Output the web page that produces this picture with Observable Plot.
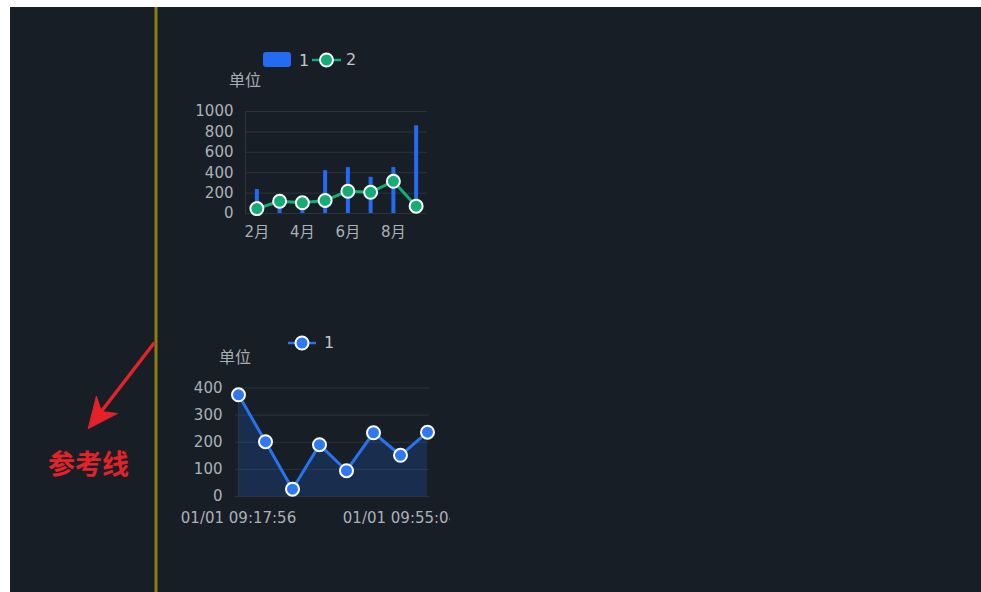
<!DOCTYPE html>
<html><head><meta charset="utf-8">
<script src="https://cdn.jsdelivr.net/npm/d3@7"></script>
<script src="https://cdn.jsdelivr.net/npm/@observablehq/plot@0.6"></script>
<style>
html,body{margin:0;padding:0;background:#fff;width:981px;height:592px;overflow:hidden;}
#stage{position:absolute;left:10px;top:7px;width:971px;height:585px;background:#171e26;overflow:hidden;font-family:"DejaVu Sans","Noto Sans CJK SC",sans-serif;}
.unit{position:absolute;color:#a9adb3;font-size:16px;transform:translate(-50%,-50%);white-space:nowrap;line-height:1;font-family:"Noto Sans CJK SC",sans-serif;}
svg{overflow:hidden;}
</style></head><body><div id="stage"></div>
<script>
// ---------- data ----------
const months = ["2月","3月","4月","5月","6月","7月","8月","9月"];
const series1 = [235,130,100,420,450,355,450,860];
const series2 = [48,120,105,128,218,208,316,72];
const monthTicks = ["2月","4月","6月","8月"];
const yTicks1 = [0,200,400,600,800,1000];

const times = ["01/01 09:17:56","01/01 09:24:10","01/01 09:30:15","01/01 09:36:40","01/01 09:42:52","01/01 09:49:01","01/01 09:55:04","01/01 10:01:20"];
const series3 = [375,202,27,191,95,235,152,237];
const timeTicks = ["01/01 09:17:56","01/01 09:55:04"];
const yTicks2 = [0,100,200,300,400];

const legend1 = ["1","2"];
const legend2 = ["1"];
const unitLabel = "单位";
const refLabel = "参考线";

// annotation (page pixel coordinates)
const refLineX = [155.5];
const refShaft = [{x1:154, y1:342, x2:100, y2:412}];
const refHead = [{x:88,y:428},{x:117,y:413},{x:101,y:411},{x:96,y:396}];
const refText = [{x:88, y:465, label:refLabel}];

// ---------- colours ----------
const GRID = "#2b333d", TXT = "#adb1b7";
const BLUE = "#236cf2", GREEN = "#14ad75", RED = "#e4222a", GOLD = "#8d7c12";
const FONT = '"DejaVu Sans","Noto Sans CJK SC",sans-serif';
const CJK = '"Noto Sans CJK SC",sans-serif';

const stage = document.getElementById("stage");
const OX = 10, OY = 7; // stage offset in page coords
function place(el, x, y){ el.style.position="absolute"; el.style.left=(x-OX)+"px"; el.style.top=(y-OY)+"px"; stage.appendChild(el); return el; }

// ---------- annotation layer ----------
const ann = Plot.plot({
  width:971, height:585, margin:0,
  x:{domain:[10,981], range:[0,971], axis:null},
  y:{domain:[7,592], range:[0,585], axis:null},
  style:{background:"transparent", fontFamily:CJK},
  marks:[
    Plot.ruleX(refLineX, {x:d=>d, stroke:GOLD, strokeWidth:3}),
    Plot.link(refShaft, {x1:"x1", y1:"y1", x2:"x2", y2:"y2", stroke:RED, strokeWidth:3.5}),
    Plot.line(refHead, {x:"x", y:"y", fill:RED, stroke:RED, strokeWidth:1, curve:"linear-closed"}),
    Plot.text(refText, {x:"x", y:"y", text:"label", fill:RED, fontSize:27, fontWeight:"bold"})
  ]
});
place(ann, 10, 7);

// ---------- chart 1 ----------
const d1 = months.map((m,i)=>({i, m, a:series1[i], b:series2[i]}));
const c1 = Plot.plot({
  width:280, height:220, marginLeft:75, marginRight:23, marginTop:71, marginBottom:47,
  style:{background:"transparent", color:TXT, fontSize:"15px", fontFamily:FONT},
  x:{type:"linear", domain:[-0.5,7.5], ticks:monthTicks.map(m=>months.indexOf(m)), tickFormat:i=>months[i], tickSize:0, tickPadding:13, label:null},
  y:{domain:[0,1000], ticks:yTicks1, tickFormat:d=>String(d), tickSize:0, tickPadding:12, label:null},
  marks:[
    Plot.ruleY(yTicks1, {y:d=>d, stroke:GRID, strokeWidth:1}),
    Plot.ruleX([-0.5], {x:d=>d, stroke:GRID, strokeWidth:1}),
    Plot.ruleX(d1, {x:"i", y1:0, y2:"a", stroke:BLUE, strokeWidth:4}),
    Plot.lineY(d1, {x:"i", y:"b", stroke:GREEN, strokeWidth:3}),
    Plot.dot(d1, {x:"i", y:"b", r:6.5, fill:GREEN, stroke:"#fff", strokeWidth:2})
  ]
});
const w1 = document.createElement("div"); w1.style.width="280px"; w1.style.height="220px"; w1.style.overflow="hidden";
w1.appendChild(c1); place(w1, 170, 40);

// ---------- chart 2 ----------
const d2 = times.map((t,i)=>({t, v:series3[i]}));
const c2 = Plot.plot({
  width:290, height:210, marginLeft:75, marginRight:21, marginTop:62.5, marginBottom:39,
  style:{background:"transparent", color:TXT, fontSize:"15px", fontFamily:FONT},
  x:{type:"point", domain:times, padding:0, ticks:timeTicks, tickSize:0, tickPadding:16, label:null},
  y:{domain:[0,400], ticks:yTicks2, tickSize:0, tickPadding:13, label:null},
  marks:[
    Plot.ruleY(yTicks2, {y:d=>d, stroke:GRID, strokeWidth:1}),
    Plot.areaY(d2, {x:"t", y:"v", fill:BLUE, fillOpacity:0.2}),
    Plot.ruleX([times[0]], {x:d=>d, stroke:GRID, strokeWidth:1}),
    Plot.lineY(d2, {x:"t", y:"v", stroke:"#2a72ee", strokeWidth:3}),
    Plot.dot(d2, {x:"t", y:"v", r:6.5, fill:"#2f78f3", stroke:"#fff", strokeWidth:2})
  ]
});
const w2 = document.createElement("div"); w2.style.width="290px"; w2.style.height="210px"; w2.style.overflow="hidden";
w2.appendChild(c2); place(w2, 160, 325);

// ---------- unit labels ----------
for (const [x,y] of [[245,79],[235,356]]) {
  const s = document.createElement("div"); s.className="unit"; s.textContent = unitLabel; place(s, x, y);
}

// ---------- legends ----------
const lg = d3.create("svg").attr("width",971).attr("height",585)
  .style("position","absolute").style("left","0px").style("top","0px").style("overflow","visible");
const g = lg.append("g").attr("transform",`translate(${-OX},${-OY})`)
  .attr("font-family",FONT).attr("font-size",16).attr("fill","#c3c6cb");
// legend 1
g.append("rect").attr("x",263).attr("y",52).attr("width",28).attr("height",15).attr("rx",3).attr("fill",BLUE);
g.append("text").attr("x",299).attr("y",60).attr("dy","0.35em").text(legend1[0]);
g.append("line").attr("x1",312).attr("x2",341).attr("y1",60).attr("y2",60).attr("stroke",GREEN).attr("stroke-width",2.5);
g.append("circle").attr("cx",326.5).attr("cy",60).attr("r",6.5).attr("fill",GREEN).attr("stroke","#fff").attr("stroke-width",2);
g.append("text").attr("x",346).attr("y",59).attr("dy","0.35em").text(legend1[1]);
// legend 2
g.append("line").attr("x1",288).attr("x2",316).attr("y1",343).attr("y2",343).attr("stroke","#2a72ee").attr("stroke-width",2.5);
g.append("circle").attr("cx",302).attr("cy",343).attr("r",6.5).attr("fill","#2f78f3").attr("stroke","#fff").attr("stroke-width",2);
g.append("text").attr("x",324).attr("y",342).attr("dy","0.35em").text(legend2[0]);
stage.appendChild(lg.node());
</script>
</body></html>
